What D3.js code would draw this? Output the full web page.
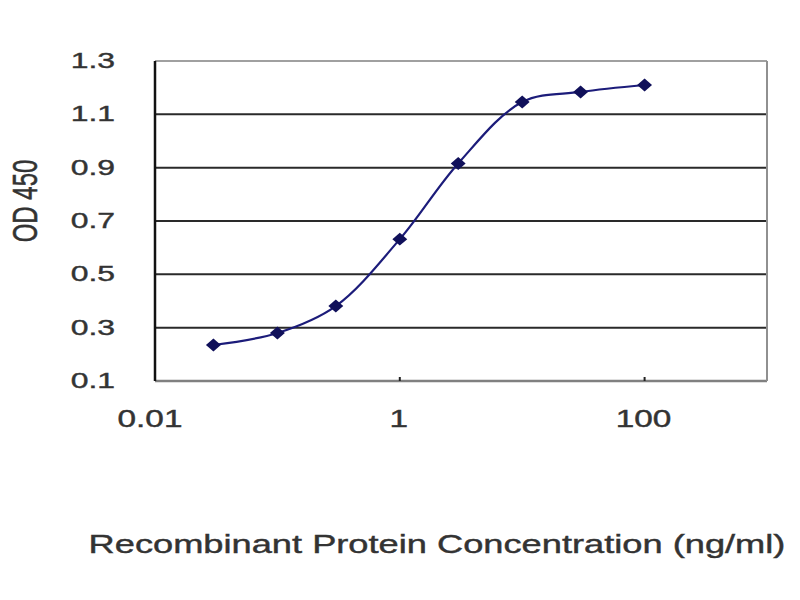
<!DOCTYPE html>
<html>
<head>
<meta charset="utf-8">
<script src="https://cdn.jsdelivr.net/npm/d3@7"></script>
<style>
  body { margin: 0; background: #fff; }
  text { font-family: "Liberation Sans", Arial, sans-serif; fill: #333; stroke: #333; stroke-width: 0.4; }
</style>
</head>
<body>
<script>
const width = 800;
const height = 600;
const STRETCH = 1.45;  // the reference text is drawn wide

// concentration (ng/ml) and OD450 readings
const conc = [0.03, 0.1, 0.3, 1, 3, 10, 30, 100];
const od = [0.235, 0.28, 0.381, 0.632, 0.916, 1.146, 1.184, 1.21];
const yTicks = [0.1, 0.3, 0.5, 0.7, 0.9, 1.1, 1.3];
const xTicks = [0.01, 1, 100];

const plot = {left: 155, right: 767, top: 61, bottom: 381};

const svg = d3.select("body").append("svg")
    .attr("width", width)
    .attr("height", height);

const x = d3.scaleLog().domain([0.01, 1000]).range([plot.left, plot.right]);
const y = d3.scaleLinear().domain([0.1, 1.3]).range([plot.bottom, plot.top]);

// gridlines
svg.selectAll("line.grid")
    .data(yTicks.filter(d => d > 0.1))
    .enter().append("line")
    .attr("class", "grid")
    .attr("x1", plot.left).attr("x2", plot.right)
    .attr("y1", d => y(d)).attr("y2", d => y(d))
    .attr("stroke", d => d === 1.3 ? "#a0a0a0" : "#2a2a2a")
    .attr("stroke-width", 2);

// frame: bottom + right in gray, left axis black
svg.append("line")
    .attr("x1", plot.left).attr("x2", plot.right)
    .attr("y1", plot.bottom).attr("y2", plot.bottom)
    .attr("stroke", "#808080").attr("stroke-width", 2.5);
svg.append("line")
    .attr("x1", plot.right).attr("x2", plot.right)
    .attr("y1", plot.top).attr("y2", plot.bottom)
    .attr("stroke", "#909090").attr("stroke-width", 2);
svg.append("line")
    .attr("x1", plot.left).attr("x2", plot.left)
    .attr("y1", plot.top).attr("y2", plot.bottom)
    .attr("stroke", "#111").attr("stroke-width", 2.5);

// y tick labels
svg.selectAll("text.ytick")
    .data(yTicks)
    .enter().append("text")
    .attr("class", "ytick")
    .attr("transform", d => `translate(115,${y(d) + 7}) scale(${STRETCH},1)`)
    .attr("text-anchor", "end")
    .attr("font-size", 22)
    .text(d => d.toFixed(1));

// x ticks + labels
svg.selectAll("line.xtick")
    .data(xTicks.slice(1))
    .enter().append("line")
    .attr("x1", d => x(d)).attr("x2", d => x(d))
    .attr("y1", plot.bottom - 4).attr("y2", plot.bottom)
    .attr("stroke", "#222").attr("stroke-width", 2);

svg.selectAll("text.xtick")
    .data(xTicks)
    .enter().append("text")
    .attr("class", "xtick")
    .attr("transform", d => `translate(${x(d) - (d === 0.01 ? 5 : 1)},427) scale(${STRETCH},1)`)
    .attr("text-anchor", "middle")
    .attr("font-size", 23)
    .text(d => d === 0.01 ? "0.01" : d3.format("d")(d));

// axis titles
svg.append("text")
    .attr("transform", `translate(37,201) scale(${STRETCH},1) rotate(-90)`)
    .attr("text-anchor", "middle")
    .attr("font-size", 24)
    .text("OD 450");

svg.append("text")
    .attr("transform", `translate(437,553) scale(${STRETCH},1)`)
    .attr("text-anchor", "middle")
    .attr("font-size", 25)
    .text("Recombinant Protein Concentration (ng/ml)");

// smoothed curve
const pts = conc.map((c, i) => [x(c), y(od[i])]);
svg.append("path")
    .attr("d", d3.line().curve(d3.curveCatmullRom.alpha(0.5))(pts))
    .attr("fill", "none")
    .attr("stroke", "#1c1c7a")
    .attr("stroke-width", 2.2);

// diamond markers
svg.selectAll("path.pt")
    .data(pts)
    .enter().append("path")
    .attr("class", "pt")
    .attr("transform", d => `translate(${d[0]},${d[1]}) scale(1.15,1) rotate(45)`)
    .attr("d", d3.symbol().type(d3.symbolSquare).size(84))
    .attr("fill", "#10105a");
</script>
</body>
</html>
